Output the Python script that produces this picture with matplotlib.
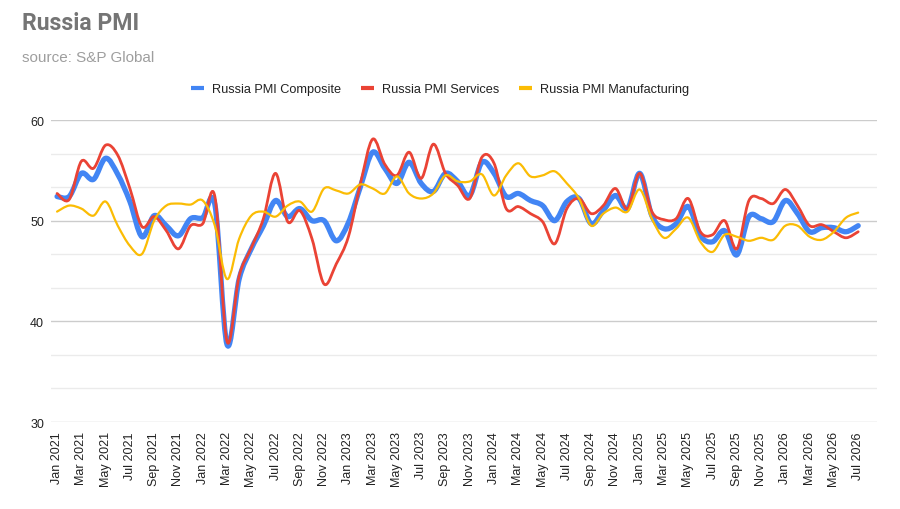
import numpy as np
import pandas as pd
import matplotlib
matplotlib.use("Agg")
import matplotlib.pyplot as plt
from matplotlib.path import Path
from matplotlib.patches import PathPatch
from matplotlib.lines import Line2D
from matplotlib.ticker import MultipleLocator, AutoMinorLocator

plt.rcParams["font.family"] = ["Liberation Sans", "DejaVu Sans"]

months = pd.date_range("2021-01-01", "2026-07-01", freq="MS")
month_labels = [d.strftime("%b %Y") for d in months]

composite = [52.4, 52.4, 54.7, 54.1, 56.2, 54.6, 51.9, 48.4, 50.5, 49.5,
             48.5, 50.2, 50.3, 51.6, 37.7, 44.2, 47.2, 49.5, 52.0, 50.4,
             51.2, 50.0, 50.0, 48.0, 49.8, 53.4, 56.8, 55.2, 53.7, 55.8,
             53.7, 52.9, 54.7, 53.9, 52.5, 55.8, 54.7, 52.4, 52.7, 52.0,
             51.5, 50.0, 51.9, 52.2, 49.7, 51.0, 52.5, 51.2, 54.7, 50.5,
             49.2, 49.7, 51.4, 48.5, 47.9, 49.0, 46.6, 50.4, 50.2, 49.9,
             52.0, 50.7, 48.9, 49.3, 49.3, 48.9, 49.5]
services = [52.7, 52.1, 55.9, 55.2, 57.5, 56.5, 53.2, 49.4, 50.4, 49.0,
            47.2, 49.5, 49.7, 52.4, 38.0, 44.5, 47.3, 50.2, 54.7, 49.9,
            51.0, 48.2, 43.7, 45.7, 48.4, 53.7, 58.1, 55.6, 54.5, 56.8,
            54.2, 57.6, 54.7, 53.5, 52.2, 56.3, 55.7, 51.2, 51.4, 50.7,
            49.9, 47.7, 51.2, 52.2, 50.7, 51.5, 53.2, 51.2, 54.7, 50.9,
            50.1, 50.2, 52.2, 48.9, 48.6, 50.0, 47.2, 52.0, 52.2, 51.7,
            53.1, 51.5, 49.5, 49.6, 48.9, 48.3, 48.9]
manufacturing = [50.9, 51.5, 51.2, 50.5, 51.9, 49.5, 47.5, 46.7, 50.0, 51.5,
                 51.7, 51.6, 52.0, 49.5, 44.2, 48.2, 50.5, 50.9, 50.4, 51.5,
                 51.9, 50.9, 53.2, 53.0, 52.7, 53.6, 53.2, 52.7, 54.4, 52.7,
                 52.2, 52.7, 54.5, 53.9, 53.9, 54.6, 52.5, 54.5, 55.7, 54.4,
                 54.5, 54.9, 53.7, 52.2, 49.5, 50.7, 51.3, 50.9, 53.1, 50.2,
                 48.3, 49.2, 50.3, 47.9, 46.9, 48.6, 48.4, 48.0, 48.3, 48.1,
                 49.5, 49.5, 48.4, 48.1, 48.9, 50.3, 50.8]

series = [
    ("Russia PMI Composite", composite, "#4285F4", 3.8),
    ("Russia PMI Services", services, "#EA4335", 2.0),
    ("Russia PMI Manufacturing", manufacturing, "#FBBC04", 1.6),
]


def smooth_path(x, y):
    """Catmull-Rom curve through the points, as cubic Bezier segments."""
    pts = np.column_stack([np.asarray(x, float), np.asarray(y, float)])
    verts = [pts[0]]
    codes = [Path.MOVETO]
    n = len(pts)
    for i in range(n - 1):
        p0 = pts[max(i - 1, 0)]
        p1 = pts[i]
        p2 = pts[i + 1]
        p3 = pts[min(i + 2, n - 1)]
        verts += [p1 + (p2 - p0) / 6.0, p2 - (p3 - p1) / 6.0, p2]
        codes += [Path.CURVE4] * 3
    return Path(verts, codes)


fig = plt.figure(figsize=(9, 5.1), dpi=100)
ax = fig.add_axes([51 / 900, 1 - 423 / 510, 826 / 900, 302 / 510])

x = np.arange(len(months))
handles = []
for z, (name, vals, color, lw) in enumerate(series):
    patch = PathPatch(smooth_path(x, vals), facecolor="none",
                      edgecolor=color, lw=lw, capstyle="round",
                      joinstyle="round", zorder=3 + z)
    ax.add_patch(patch)
    handles.append(Line2D([], [], color=color, lw=3.0,
                          solid_capstyle="butt", label=name))

ax.set_xlim(-0.5, 67.55)
ax.set_ylim(30, 60)

ax.yaxis.set_major_locator(MultipleLocator(10))
ax.yaxis.set_minor_locator(AutoMinorLocator(3))
ax.grid(axis="y", which="major", color="#cccccc", lw=1.0, zorder=0)
ax.grid(axis="y", which="minor", color="#ebebeb", lw=1.0, zorder=0)
ax.grid(axis="x", visible=False)

ax.set_xticks(x[::2])
ax.set_xticklabels(month_labels[::2], rotation=90, fontsize=9,
                   color="#222222")
ax.tick_params(axis="x", length=0, pad=6.5)
ax.tick_params(axis="y", which="both", length=0, pad=5,
               labelsize=9, labelcolor="#222222")
for s in ax.spines.values():
    s.set_visible(False)

fig.text(22 / 900, 1 - 23 / 510, "Russia PMI", fontsize=16.6,
         fontweight="bold", family=["Roboto", "DejaVu Sans"],
         color="#757575", va="center", ha="left")
fig.text(22 / 900, 1 - 58 / 510, "source: S&P Global", fontsize=11,
         color="#9e9e9e", va="center", ha="left")

fig.legend(handles=handles, loc="center", bbox_to_anchor=(440 / 900, 1 - 90 / 510),
           ncol=3, frameon=False, fontsize=9.2, handlelength=1.0,
           handletextpad=0.6, columnspacing=1.6, labelcolor="#222222")

fig.savefig("out.png", dpi=100)
